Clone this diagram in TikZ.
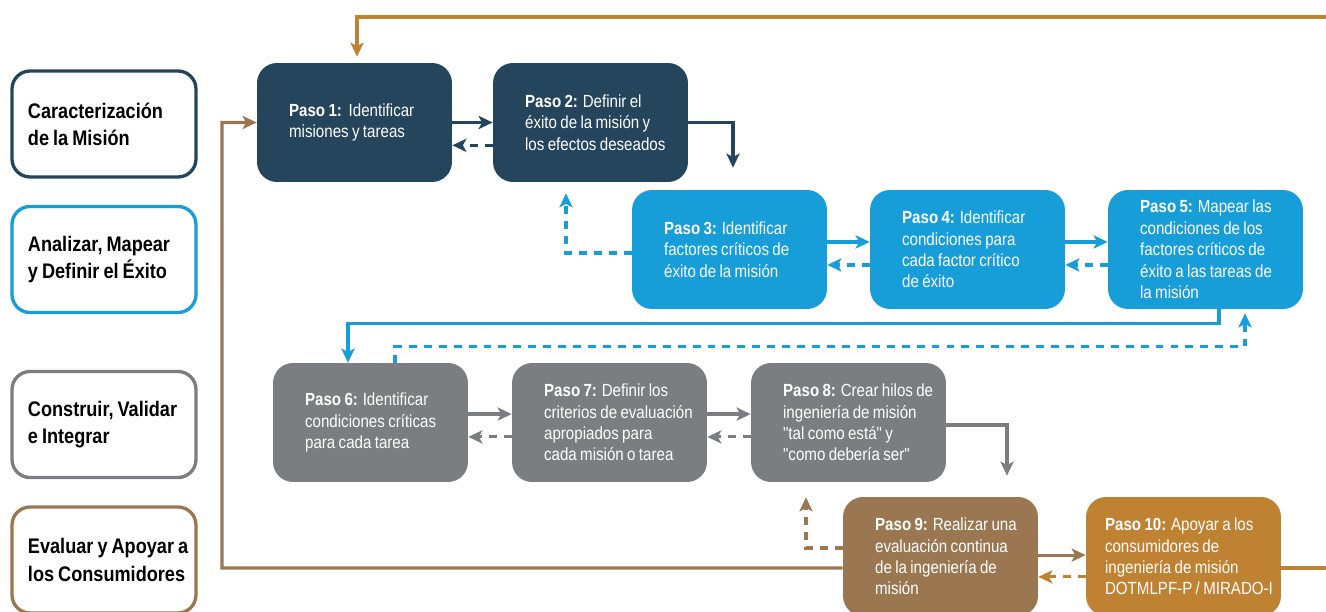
\documentclass[tikz,border=0pt]{standalone}
\usepackage{fontspec}
\setmainfont{Liberation Sans}[FakeStretch=0.86, WordSpace=0.8, Ligatures=TeXOff]
\usetikzlibrary{arrows.meta,calc}

\definecolor{marino}{RGB}{36,69,92}
\definecolor{celeste}{RGB}{23,158,217}
\definecolor{gris}{RGB}{124,125,128}
\definecolor{cafe}{RGB}{154,119,80}
\definecolor{ocre}{RGB}{191,130,50}

\tikzset{
  fase/.style={draw=#1, line width=1.9pt, fill=white, rounded corners=0.36cm,
    minimum width=3.68cm, minimum height=2.12cm, text width=3.52cm, inner xsep=0.08cm,
    align=flush left, font=\fontsize{12}{15.5}\selectfont\bfseries,
    execute at begin node={\leftskip=6.8pt}},
  paso/.style={fill=#1, text=white, rounded corners=0.4cm,
    minimum width=3.9cm, minimum height=2.38cm, text width=3.6cm, inner xsep=0.15cm,
    align=flush left, font=\fontsize{10}{12.2}\selectfont,
    execute at begin node={\leftskip=14pt}},
  flecha/.style={line width=1.8pt, -{Stealth[length=8pt,width=7.5pt,inset=2pt]}},
  retorno/.style={flecha, dash pattern=on 4.5pt off 4pt},
}

\begin{document}
\begin{tikzpicture}[x=0.02cm, y=-0.02cm]
        \path[use as bounding box, clip] (0,0) rectangle (1326,612);

        \node[fase=marino] (f1) at (104,124) {Caracterización\\de la Misión};
        \node[fase=celeste] (f2) at (104,259.5) {Analizar, Mapear\\y Definir el Éxito};
        \node[fase=gris] (f3) at (104,424.5) {Construir, Validar\\e Integrar};
        \node[fase=cafe] (f4) at (104,560) {Evaluar y Apoyar a\\los Consumidores};

        \node[paso=marino] (p1) at (354.5,122.5) {\textbf{Paso 1:}\ \ Identificar\\misiones y tareas};
        \node[paso=marino] (p2) at (590.5,122.5) {\textbf{Paso 2:} Definir el\\éxito de la misión y\\los efectos deseados};
        \node[paso=celeste] (p3) at (729.5,249.5) {\textbf{Paso 3:} Identificar\\factores críticos de\\éxito de la misión};
        \node[paso=celeste] (p4) at (967.5,249.5) {\textbf{Paso 4:} Identificar\\condiciones para\\cada factor crítico\\de éxito};
        \node[paso=celeste] (p5) at (1205.5,249.5) {\textbf{Paso 5:} Mapear las\\condiciones de los\\factores críticos de\\éxito a las tareas de\\la misión};
        \node[paso=gris] (p6) at (370.5,422.5) {\textbf{Paso 6:} Identificar\\condiciones críticas\\para cada tarea};
        \node[paso=gris] (p7) at (609.5,422.5) {\textbf{Paso 7:} Definir los\\criterios de evaluación\\apropiados para\\cada misión o tarea};
        \node[paso=gris] (p8) at (848.5,422.5) {\textbf{Paso 8:} Crear hilos de\\ingeniería de misión\\"tal como está" y\\"como debería ser"};
        \node[paso=cafe] (p9) at (940.5,556.5) {\textbf{Paso 9:} Realizar una\\evaluación continua\\de la ingeniería de\\misión};
        \node[paso=ocre, text width=3.8cm, inner xsep=0.05cm, execute at begin node={\leftskip=9.4pt}] (p10) at (1183.5,556.5) {\textbf{Paso 10:} Apoyar a los\\consumidores de\\ingeniería de misión\\DOTMLPF-P / MIRADO-I};

        \coordinate (lazo) at (1345,17);
        \coordinate (bajo) at (222,568);

        \draw[flecha, marino] (p1) -- (p2);
        \draw[retorno, marino] ([yshift=-13pt]p2.west) -- ([yshift=-13pt]p1.east);
        \draw[flecha, marino] (p2.east) -| ($(p3.north)+(3.5,-22)$);
        \draw[retorno, celeste] ($(p3.west)+(0,3.5)$) -| ($(p2.south)+(-24.5,11)$);
        \draw[flecha, celeste] ([yshift=4.3pt]p3.east) -- ([yshift=4.3pt]p4.west);
        \draw[retorno, celeste] ([yshift=-8.8pt]p4.west) -- ([yshift=-8.8pt]p3.east);
        \draw[flecha, celeste] ([yshift=4.3pt]p4.east) -- ([yshift=4.3pt]p5.west);
        \draw[retorno, celeste] ([yshift=-8.8pt]p5.west) -- ([yshift=-8.8pt]p4.east);
        \draw[flecha, celeste] ($(p5.south)+(13.5,0)$) -- ++(0,14) -| ($(p6.north)+(-22.5,0)$);
        \draw[retorno, celeste] ($(p6.north)+(24.5,0)$) -- ++(0,-16) -| ($(p5.south)+(39.5,4)$);
        \draw[flecha, gris] ([yshift=4.8pt]p6.east) -- ([yshift=4.8pt]p7.west);
        \draw[retorno, gris] ([yshift=-8.2pt]p7.west) -- ([yshift=-8.2pt]p6.east);
        \draw[flecha, gris] ([yshift=4.8pt]p7.east) -- ([yshift=4.8pt]p8.west);
        \draw[retorno, gris] ([yshift=-8.2pt]p8.west) -- ([yshift=-8.2pt]p7.east);
        \draw[flecha, gris] ($(p8.east)+(0,2.5)$) -| ($(p9.north)+(66.5,-21)$);
        \draw[retorno, cafe] ($(p9.west)+(0,-8.5)$) -| ($(p8.south)+(-42.5,15)$);
        \draw[flecha, cafe] ([yshift=0.8pt]p9.east) -- ([yshift=0.8pt]p10.west);
        \draw[retorno, ocre] ([yshift=-11.6pt]p10.west) -- ([yshift=-11.6pt]p9.east);
        \draw[flecha, cafe] ($(p9.west)+(0,11.5)$) -- (bajo) |- (p1.west);
        \draw[flecha, ocre] ($(p10.east)+(0,11.5)$) -| (lazo) -| ($(p1.north)+(2.5,-6)$);
      \end{tikzpicture}
\end{document}
